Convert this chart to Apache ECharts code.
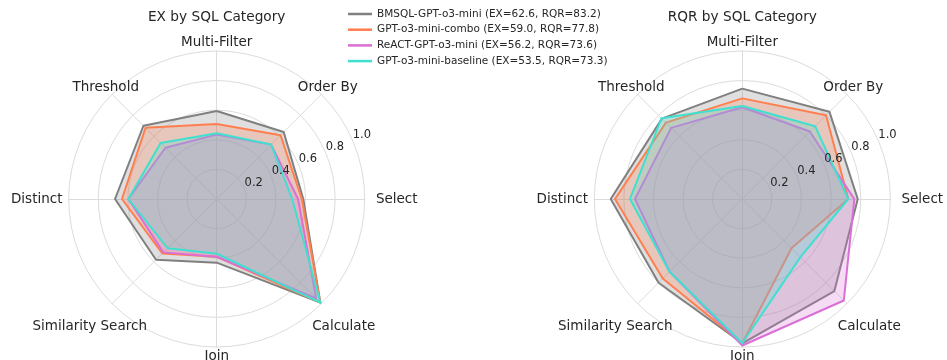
<!DOCTYPE html>
<html>
<head>
<meta charset="utf-8">
<script src="https://cdn.jsdelivr.net/npm/echarts@6/dist/echarts.min.js"></script>
<style>html,body{margin:0;padding:0;background:#fff;}#c{width:947px;height:360px;}</style>
</head>
<body>
<div id="c"></div>
<script>
// Categories in clockwise order starting at the top
const categories = ['Multi-Filter', 'Order By', 'Select', 'Calculate', 'Join', 'Similarity Search', 'Distinct', 'Threshold'];
const seriesNames = [
  'BMSQL-GPT-o3-mini (EX=62.6, RQR=83.2)',
  'GPT-o3-mini-combo (EX=59.0, RQR=77.8)',
  'ReACT-GPT-o3-mini (EX=56.2, RQR=73.6)',
  'GPT-o3-mini-baseline (EX=53.5, RQR=73.3)'
];
const colors = ['#808080', '#FF7F50', '#DA70D6', '#40E0D0'];
const chartTitles = ['EX by SQL Category', 'RQR by SQL Category'];
const radialTicks = [0.2, 0.4, 0.6, 0.8, 1.0];

const exBMSQL    = [0.595, 0.64, 0.585, 0.99, 0.43, 0.58, 0.687, 0.70];
const exCombo    = [0.507, 0.61, 0.575, 0.99, 0.39, 0.52, 0.64, 0.68];
const exReACT    = [0.435, 0.52, 0.55, 0.95, 0.39, 0.51, 0.597, 0.49];
const exBaseline = [0.444, 0.52, 0.51, 0.99, 0.37, 0.47, 0.597, 0.536];

const rqrBMSQL    = [0.746, 0.833, 0.78, 0.88, 0.975, 0.80, 0.889, 0.768];
const rqrCombo    = [0.68, 0.80, 0.716, 0.47, 0.975, 0.76, 0.86, 0.73];
const rqrReACT    = [0.62, 0.645, 0.757, 0.97, 0.99, 0.695, 0.725, 0.68];
const rqrBaseline = [0.628, 0.696, 0.716, 0.555, 0.975, 0.695, 0.759, 0.772];

const exData = [exBMSQL, exCombo, exReACT, exBaseline];
const rqrData = [rqrBMSQL, rqrCombo, rqrReACT, rqrBaseline];

// ECharts radar goes counter-clockwise: reorder
const order = [0, 7, 6, 5, 4, 3, 2, 1];
const reorder = arr => order.map(i => arr[i]);

const FONT = 'DejaVu Sans';
const TXT = '#262626';
const GRID = '#dcdcdc';
const richKey = {
  'Select': 'r', 'Distinct': 'l', 'Calculate': 'br', 'Similarity Search': 'bl'
};
const baseRich = {fontSize: 13.5, fontFamily: FONT, color: TXT};
const rich = {
  c: Object.assign({}, baseRich),
  r: Object.assign({padding: [0, 0, 0, 46]}, baseRich),
  l: Object.assign({padding: [0, 46, 0, 0]}, baseRich),
  br: Object.assign({padding: [32, 0, 0, 32]}, baseRich),
  bl: Object.assign({padding: [32, 32, 0, 0]}, baseRich)
};

const centers = [[216.7, 199], [742.3, 199]];
const R = 148;
// radial tick labels sit slightly above their rings
const labelShift = [0, -3.5];

function makeRadar(ci) {
  return {
    center: centers[ci],
    radius: R,
    startAngle: 90,
    shape: 'circle',
    splitNumber: 5,
    indicator: reorder(categories).map(n => ({name: n, min: 0, max: 1})),
    nameGap: 9,
    axisName: {
      color: TXT, fontSize: 13.5, fontFamily: FONT,
      align: 'center', verticalAlign: 'middle',
      formatter: (name) => '{' + (richKey[name] || 'c') + '|' + name + '}',
      rich: rich
    },
    splitLine: {lineStyle: {color: GRID, width: 1}},
    axisLine: {lineStyle: {color: GRID, width: 1}},
    splitArea: {show: false},
    axisTick: {show: false},
    axisLabel: {show: false}
  };
}

const series = [];
[exData, rqrData].forEach((data, ci) => {
  data.forEach((vals, si) => {
    series.push({
      type: 'radar',
      radarIndex: ci,
      name: seriesNames[si],
      symbol: 'none',
      z: 2 + si * 0.01,
      lineStyle: {color: colors[si], width: 2},
      itemStyle: {color: colors[si]},
      areaStyle: {color: colors[si], opacity: 0.25},
      data: [{value: reorder(vals), name: seriesNames[si]}]
    });
  });
});

const option = {
  backgroundColor: '#fff',
  animation: false,
  title: chartTitles.map((t, i) => ({
    text: t,
    left: centers[i][0],
    textAlign: 'center',
    top: 10.5,
    padding: 0,
    textStyle: {fontSize: 13.7, fontWeight: 'normal', fontFamily: FONT, color: TXT}
  })),
  legend: {
    orient: 'vertical',
    left: 348,
    top: 8,
    padding: 0,
    itemWidth: 24,
    itemHeight: 2.5,
    itemGap: 3.7,
    icon: 'rect',
    data: seriesNames,
    textStyle: {fontSize: 10.5, fontFamily: FONT, color: TXT, lineHeight: 12}
  },
  radar: [makeRadar(0), makeRadar(1)],
  polar: centers.map(c => ({center: [c[0] + labelShift[0], c[1] + labelShift[1]], radius: R})),
  angleAxis: [0, 1].map(i => ({
    polarIndex: i, type: 'value', startAngle: 24, min: 0, max: 360,
    show: false
  })),
  radiusAxis: [0, 1].map(i => ({
    polarIndex: i, type: 'value', min: 0, max: 1, interval: 0.2, z: 3,
    axisLine: {show: false}, axisTick: {show: false}, splitLine: {show: false},
    axisLabel: {
      show: true, margin: 0, showMinLabel: false,
      align: 'center', verticalAlign: 'middle',
      padding: [0, 0, 21, 20],
      fontSize: 11.5, fontFamily: FONT, color: TXT,
      formatter: v => radialTicks.some(t => Math.abs(t - v) < 1e-6) ? v.toFixed(1) : ''
    }
  })),
  series: series
};

const chart = echarts.init(document.getElementById('c'), null, {renderer: 'canvas'});
chart.setOption(option);
</script>
</body>
</html>
